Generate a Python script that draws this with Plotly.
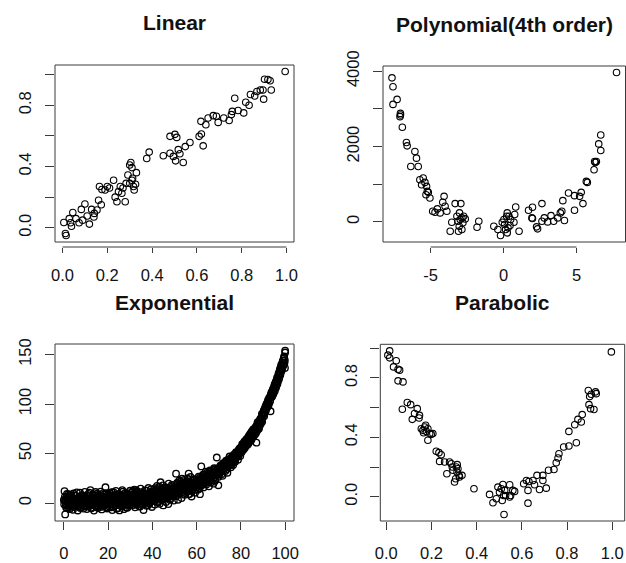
import plotly.graph_objects as go

# ---- data -------------------------------------------------------------
lin_x = [0.006, 0.013, 0.016, 0.036, 0.040, 0.046, 0.074, 0.084, 0.100, 0.110,
         0.120, 0.130, 0.142, 0.154, 0.161, 0.165, 0.176, 0.173, 0.190, 0.200,
         0.228, 0.235, 0.243, 0.250, 0.258, 0.265, 0.280, 0.284, 0.292, 0.300,
         0.305, 0.310, 0.313, 0.317, 0.320, 0.330, 0.326, 0.376, 0.387, 0.450,
         0.480, 0.502, 0.510, 0.480, 0.495, 0.505, 0.517, 0.524, 0.539, 0.548,
         0.569, 0.610, 0.620, 0.628, 0.618, 0.640, 0.650, 0.673, 0.687, 0.695,
         0.720, 0.744, 0.754, 0.758, 0.769, 0.784, 0.809, 0.818, 0.833, 0.839,
         0.858, 0.868, 0.883, 0.898, 0.895, 0.902, 0.917, 0.927, 0.932, 0.994,
         0.030, 0.060, 0.090, 0.140, 0.210, 0.270, 0.300, 0.310]
lin_y = [0.035, -0.037, -0.050, 0.033, 0.010, 0.100, 0.033, 0.120, 0.155, 0.077,
         0.024, 0.120, 0.094, 0.116, 0.180, 0.270, 0.250, 0.150, 0.247, 0.270,
         0.310, 0.200, 0.170, 0.236, 0.270, 0.225, 0.170, 0.290, 0.345, 0.410,
         0.426, 0.393, 0.323, 0.270, 0.247, 0.360, 0.284, 0.452, 0.494, 0.470,
         0.597, 0.610, 0.590, 0.487, 0.466, 0.437, 0.510, 0.483, 0.426, 0.530,
         0.557, 0.597, 0.612, 0.535, 0.695, 0.673, 0.717, 0.732, 0.728, 0.688,
         0.717, 0.700, 0.739, 0.760, 0.846, 0.766, 0.750, 0.820, 0.800, 0.870,
         0.860, 0.890, 0.900, 0.840, 0.900, 0.970, 0.968, 0.960, 0.900, 1.020,
         0.060, 0.060, 0.050, 0.070, 0.260, 0.260, 0.290, 0.310]

poly_x = [-7.65, -7.58, -7.30, -7.58, -7.07, -7.07, -7.10, -6.94, -6.66, -6.61,
          -6.08, -5.97, -6.36, -5.85, -5.74, -5.51, -5.62, -5.39, -5.28, -5.16,
          -5.05, -5.23, -5.32, -4.08, -4.17, -4.86, -4.70, -4.54, -4.35, -4.01,
          -3.89, -3.32, -2.93, -3.55, -3.66, -3.20, -3.13, -3.04, -2.97, -2.86,
          -2.74, -2.63, -2.79, -3.09, -2.86, -3.02, -1.70, -1.82, -0.67, -0.39,
          -0.21, -0.09, 0.02, 0.07, 0.21, 0.25, 0.37, 0.48, 0.14, 0.30,
          0.71, 0.83, 0.76, 1.06, 0.44, 0.25, 1.71, 1.98, 1.94, 1.98,
          2.26, 2.33, 2.63, 2.63, 2.79, 3.02, 3.25, 3.43, 3.71, 3.89,
          3.99, 4.17, 4.06, 4.45, 4.86, 5.21, 5.32, 4.86, 5.44, 5.67,
          5.74, 6.20, 6.29, 6.36, 6.24, 6.52, 6.66, 6.66, 7.74]
poly_y = [3824, 3586, 3251, 3119, 2880, 2837, 2793, 2511, 2106, 2018,
          1868, 1692, 1471, 1471, 1119, 1163, 987, 1048, 943, 784,
          634, 811, 722, 678, 520, 282, 256, 344, 238, 414,
          282, 485, 485, -9, -247, 150, 18, -115, 62, 106,
          150, 79, -26, -247, -203, 238, 18, -141, -115, -203,
          -361, -9, 62, -70, 150, 238, 150, 62, -203, -159,
          -9, 397, 194, -247, -97, -291, 308, 388, 106, 88,
          -132, -185, 485, 18, 106, 0, 167, 18, 106, 238,
          282, 35, 564, 767, 696, 678, 784, 308, 485, 1075,
          1048, 1383, 1577, 1604, 1604, 2070, 1894, 2308, 3965]

exp_x = [0.0, 0.3, 0.6, 0.9, 1.2, 1.6, 1.9, 2.2, 2.5, 2.8, 3.1, 3.5, 3.8, 4.1, 4.4, 4.7,
         5.0, 5.4, 5.7, 6.0, 6.3, 6.6, 6.9, 7.3, 7.6, 7.9, 8.2, 8.5, 8.8, 9.2, 9.5, 9.8,
         10.1, 10.4, 10.7, 11.1, 11.4, 11.7, 12.0, 12.3, 12.7, 13.0, 13.3, 13.6, 13.9, 14.3, 14.6,
         14.9, 15.2, 15.5, 15.8, 16.2, 16.5, 16.8, 17.1, 17.4, 17.8, 18.1, 18.4, 18.8, 19.1, 19.4, 19.7,
         20.0, 20.3, 20.7, 21.0, 21.3, 21.6, 21.9, 22.3, 22.6, 22.9, 23.2, 23.5, 23.9, 24.2, 24.5, 24.8,
         25.1, 25.5, 25.8, 26.1, 26.4, 26.7, 27.1, 27.4, 27.7, 28.0, 28.3, 28.7, 29.0, 29.3, 29.6, 29.9,
         30.2, 30.6, 30.9, 31.2, 31.5, 31.8, 32.2, 32.5, 32.8, 33.1, 33.4, 33.8, 34.1, 34.4, 34.7,
         35.0, 35.4, 35.7, 36.0, 36.3, 36.6, 37.0, 37.3, 37.6, 37.9, 38.2, 38.6, 38.9, 39.2, 39.5, 39.8,
         40.1, 40.5, 40.8, 41.1, 41.4, 41.7, 42.1, 42.4, 42.7, 43.0, 43.3, 43.7, 44.0, 44.3, 44.6,
         44.9, 45.3, 45.6, 45.9, 46.2, 46.5, 46.9, 47.2, 47.5, 47.8, 48.1, 48.5, 48.8, 49.1, 49.4, 49.7,
         50.0, 50.4, 50.7, 51.0, 51.3, 51.6, 52.0, 52.3, 52.6, 52.9, 53.2, 53.6, 53.9, 54.2, 54.5, 54.8,
         55.2, 55.5, 55.8, 56.1, 56.4, 56.8, 57.1, 57.4, 57.7, 58.0, 58.4, 58.7, 59.0, 59.3, 59.6, 59.9,
         60.3, 60.6, 60.9, 61.2, 61.5, 61.8, 62.1, 62.5, 62.8, 63.1, 63.4, 63.7, 64.1, 64.4, 64.7,
         65.0, 65.3, 65.6, 66.0, 66.3, 66.6, 66.9, 67.2, 67.6, 67.9, 68.2, 68.5, 68.8, 69.1, 69.5, 69.8,
         70.1, 70.4, 70.8, 71.1, 71.4, 71.7, 72.0, 72.3, 72.7, 73.0, 73.3, 73.6, 73.9, 74.3, 74.6,
         74.9, 75.2, 75.5, 75.8, 76.2, 76.5, 76.8, 77.1, 77.4, 77.8, 78.1, 78.4, 78.7, 79.0, 79.3, 79.7,
         80.0, 80.3, 80.6, 81.0, 81.3, 81.6, 81.9, 82.2, 82.5, 82.9, 83.2, 83.5, 83.8, 84.1, 84.5, 84.8,
         85.1, 85.4, 85.7, 86.0, 86.4, 86.7, 87.0, 87.3, 87.6, 88.0, 88.3, 88.6, 88.9, 89.2, 89.6, 89.9,
         90.2, 90.5, 90.8, 91.2, 91.5, 91.8, 92.1, 92.4, 92.7, 93.1, 93.4, 93.7, 94.0, 94.3, 94.6,
         95.0, 95.3, 95.6, 95.9, 96.2, 96.5, 96.9, 97.2, 97.5, 97.8, 98.1, 98.4, 98.8, 99.1, 99.4, 99.7,
         100.0, 100.0, 99.9]
exp_y = [3.1, 12.0, -11.5, -2.4, 5.6, 0.8, -5.3, 8.9, 2.2, -3.7, 6.4, -1.1, 4.0, -6.8, 9.7, 1.5,
         -2.9, 7.3, -0.4, 3.6, -7.5, 5.1, 0.2, 10.4, -4.2, 2.7, -1.8, 6.9, -5.6, 1.9, 11.3, -3.0,
         5.2, -6.1, 2.8, 9.3, -2.2, 0.6, 13.1, -4.9, 4.4, -0.7, 7.8, -7.6, 2.0, 11.2, -3.3,
         5.9, 0.1, -5.0, 8.4, 3.3, -1.6, 6.6, -6.4, 1.2, 10.0, -2.6, 4.8, 16.0, -0.9, 7.1, -4.4,
         2.1, 8.7, -3.9, 5.4, -0.3, 11.0, -7.1, 3.8, 7.2, -2.7, 1.0, 12.3, -5.7, 4.9, -1.2, 9.0,
         -7.4, 2.9, 6.8, -3.1, 13.0, 0.4, -6.2, 5.6, 10.1, -1.9, 3.2, -4.8, 8.1, 1.6, -2.3, 12.4,
         4.0, 10.6, -2.0, 7.3, 0.9, 13.4, -4.4, 6.1, 2.4, 11.7, -1.3, 8.5, 3.5, -3.6, 14.6,
         5.5, 0.0, 9.4, -7.0, 6.3, 12.8, 1.8, -2.8, 8.9, 4.6, 15.2, -0.6, 7.7, 3.0, 11.5, -4.0,
         8.0, 3.1, 13.9, -1.5, 10.2, 6.0, 17.3, 1.4, 11.8, 5.2, -0.8, 21.0, 8.6, 3.9, 14.4,
         -2.4, 10.9, 6.5, 16.0, 1.1, 12.2, 7.9, -1.0, 15.4, 9.8, 4.4, 13.0, 18.2, 6.7, 11.1, 2.5,
         14.3, 6.9, 29.7, 11.0, 18.8, 3.3, 15.9, 9.7, 21.4, 12.6, 5.0, 17.7, 13.1, 23.2, 8.4, 16.5,
         19.9, 11.3, 25.0, 14.7, 29.7, 9.2, 20.6, 16.1, 6.6, 22.5, 13.9, 18.4, 24.1, 10.5, 19.3, 15.6,
         20.8, 13.5, 26.7, 17.4, 9.0, 23.4, 37.0, 19.0, 28.3, 15.8, 24.9, 21.3, 31.6, 18.7, 26.0,
         22.4, 29.4, 16.9, 33.0, 25.3, 21.0, 30.4, 27.6, 19.6, 35.2, 28.8, 24.4, 32.7, 46.0, 29.9, 18.0,
         34.4, 29.8, 38.1, 31.7, 36.3, 27.5, 40.2, 34.9, 37.6, 32.4, 42.8, 36.7, 30.6, 44.1, 39.3,
         47.0, 41.4, 36.2, 45.5, 43.0, 38.4, 48.8, 44.9, 41.6, 51.3, 46.7, 49.5, 43.8, 54.0, 50.6, 47.4,
         55.8, 51.2, 59.4, 53.6, 57.9, 62.3, 56.0, 60.8, 64.5, 58.7, 63.0, 67.4, 61.6, 66.2, 70.8, 64.0,
         69.5, 73.1, 67.3, 71.9, 75.8, 70.2, 61.0, 78.6, 74.4, 80.9, 77.1, 83.7, 79.5, 86.2, 82.0, 89.4,
         91.5, 87.7, 95.1, 93.0, 99.2, 96.4, 101.8, 98.0, 105.5, 102.3, 92.7, 110.4, 107.0, 113.6, 109.8,
         117.2, 113.1, 121.0, 116.8, 124.5, 120.3, 128.9, 125.0, 133.2, 129.4, 137.8, 133.5, 142.1, 138.4, 145.9, 141.7,
         152.0, 154.0, 136.5]

# second run of exponential samples, interleaved with the first
exp_x_more = [0.15, 0.45, 0.75, 1.05, 1.4, 1.75, 2.05, 2.35, 2.65, 2.95, 3.3, 3.65, 3.95, 4.25, 4.55, 4.85,
              5.2, 5.55, 5.85, 6.15, 6.45, 6.75, 7.1, 7.45, 7.75, 8.05, 8.35, 8.65, 9.0, 9.35, 9.65, 9.95,
              10.25, 10.55, 10.9, 11.25, 11.55, 11.85, 12.15, 12.5, 12.85, 13.15, 13.45, 13.75, 14.1, 14.45, 14.75,
              15.05, 15.35, 15.65, 16.0, 16.35, 16.65, 16.95, 17.25, 17.6, 17.95, 18.25, 18.6, 18.95, 19.25, 19.55, 19.85,
              20.15, 20.5, 20.85, 21.15, 21.45, 21.75, 22.1, 22.45, 22.75, 23.05, 23.35, 23.7, 24.05, 24.35, 24.65,
              24.95, 25.3, 25.65, 25.95, 26.25, 26.55, 26.9, 27.25, 27.55, 27.85, 28.15, 28.5, 28.85, 29.15, 29.45, 29.75,
              30.4, 30.75, 31.05, 31.35, 31.65, 32.0, 32.35, 32.65, 32.95, 33.25, 33.6, 33.95, 34.25, 34.55, 34.85,
              35.2, 35.55, 35.85, 36.15, 36.45, 36.8, 37.15, 37.45, 37.75, 38.05, 38.4, 38.75, 39.05, 39.35, 39.65, 39.95,
              40.3, 40.65, 40.95, 41.25, 41.55, 41.9, 42.25, 42.55, 42.85, 43.15, 43.5, 43.85, 44.15, 44.45, 44.75,
              45.1, 45.45, 45.75, 46.05, 46.35, 46.7, 47.05, 47.35, 47.65, 47.95, 48.3, 48.65, 48.95, 49.25, 49.55, 49.85,
              50.2, 50.55, 50.85, 51.15, 51.45, 51.8, 52.15, 52.45, 52.75, 53.05, 53.4, 53.75, 54.05, 54.35, 54.65,
              55.0, 55.35, 55.65, 55.95, 56.25, 56.6, 56.95, 57.25, 57.55, 57.85, 58.2, 58.55, 58.85, 59.15, 59.45, 59.75,
              60.45, 60.75, 61.05, 61.35, 61.65, 61.95, 62.3, 62.65, 62.95, 63.25, 63.55, 63.9, 64.25, 64.55, 64.85,
              65.15, 65.45, 65.8, 66.15, 66.45, 66.75, 67.05, 67.4, 67.75, 68.05, 68.35, 68.65, 68.95, 69.3, 69.65, 69.95,
              70.25, 70.6, 70.95, 71.25, 71.55, 71.85, 72.15, 72.5, 72.85, 73.15, 73.45, 73.75, 74.1, 74.45, 74.75,
              75.05, 75.35, 75.65, 76.0, 76.35, 76.65, 76.95, 77.25, 77.6, 77.95, 78.25, 78.55, 78.85, 79.15, 79.5, 79.85,
              80.15, 80.45, 80.8, 81.15, 81.45, 81.75, 82.05, 82.35, 82.7, 83.05, 83.35, 83.65, 83.95, 84.3, 84.65,
              84.95, 85.25, 85.55, 85.85, 86.2, 86.55, 86.85, 87.15, 87.45, 87.8, 88.15, 88.45, 88.75, 89.05, 89.4, 89.75,
              90.05, 90.35, 90.65, 91.0, 91.35, 91.65, 91.95, 92.25, 92.55, 92.9, 93.25, 93.55, 93.85, 94.15, 94.45, 94.8,
              95.15, 95.45, 95.75, 96.05, 96.35, 96.7, 97.05, 97.35, 97.65, 97.95, 98.25, 98.6, 98.95, 99.25, 99.55, 99.85]
exp_y_more = [-1.2, 6.3, 2.5, -4.6, 9.1, 3.9, -0.8, 5.7, -6.0, 1.4, 8.2, -2.5, 4.5, 0.3, -4.0, 7.6,
              2.0, -1.7, 10.8, 4.7, -3.4, 1.1, 6.1, -5.1, 3.4, 8.0, -0.2, 4.2, -3.0, 7.4, 0.9, 5.3,
              1.8, 7.5, -3.6, 3.9, 10.6, -1.4, 5.0, -5.3, 2.6, 8.8, 0.0, 4.3, -2.9, 6.2, 1.3,
              9.6, -4.1, 3.1, 7.0, -0.4, 11.6, 2.4, -3.8, 5.5, 0.8, 8.6, -2.0, 4.0, 10.1, -5.5, 6.0,
              6.0, -0.9, 9.8, 3.0, -4.3, 7.0, 1.5, 10.9, -2.1, 4.6, 8.3, -0.4, 5.8, -5.0, 3.6,
              9.3, 0.6, 6.9, -3.3, 4.1, 11.4, 2.3, -1.6, 7.6, 3.4, -4.5, 9.9, 5.1, -0.7, 6.6, 2.0,
              7.9, 2.2, 12.1, 5.0, -1.9, 9.2, 3.8, 13.0, 0.5, 6.7, 10.4, -3.0, 7.2, 2.7, 11.0,
              5.9, -1.2, 8.3, 4.1, 10.0, 0.3, 6.4, 12.6, 3.6, -2.2, 9.6, 5.3, 1.0, 13.8, 6.9, 8.7,
              11.6, 5.4, 9.0, 15.1, 3.6, 12.9, 7.3, 0.6, 10.6, 16.6, 6.2, 13.4, 2.8, 9.9, 17.9,
              7.0, 12.5, 4.7, 10.3, 14.9, 5.9, 11.4, 19.6, 8.4, 3.2, 14.1, 10.0, 16.9, 7.8, 12.8, 9.3,
              10.2, 17.0, 12.4, 20.3, 8.1, 15.0, 22.8, 11.6, 18.1, 14.4, 24.6, 9.5, 16.8, 20.9, 13.0,
              17.6, 11.9, 21.8, 16.4, 8.7, 19.5, 14.0, 26.3, 17.3, 12.2, 20.1, 15.3, 23.5, 18.9, 13.4, 21.6,
              17.9, 24.2, 20.6, 14.8, 26.4, 22.0, 18.1, 25.6, 21.7, 29.0, 19.9, 23.8, 27.3, 20.5, 30.7,
              24.1, 21.4, 28.1, 25.7, 32.1, 23.0, 27.0, 30.0, 25.2, 33.9, 22.6, 31.1, 27.9, 35.0, 31.4, 26.6,
              31.9, 36.5, 33.3, 29.2, 38.6, 35.0, 32.6, 39.8, 36.0, 41.2, 38.0, 34.3, 40.7, 37.4, 43.6,
              40.0, 44.5, 38.9, 42.2, 47.3, 40.9, 45.3, 43.2, 48.0, 45.8, 50.0, 47.2, 52.4, 48.7, 51.8, 53.3,
              53.0, 57.2, 55.1, 60.0, 54.9, 59.2, 58.4, 62.9, 60.5, 65.3, 60.0, 64.8, 69.0, 63.4, 68.1,
              72.4, 66.5, 70.6, 74.6, 69.0, 73.8, 77.5, 72.3, 76.9, 80.3, 75.0, 79.8, 85.0, 81.1, 84.4, 87.5,
              88.9, 93.6, 90.2, 96.8, 94.5, 100.3, 97.6, 103.9, 100.0, 106.8, 104.1, 108.2, 111.9, 108.4, 115.0, 111.2,
              119.1, 115.4, 122.6, 118.7, 126.7, 122.8, 130.8, 127.0, 135.4, 131.3, 139.7, 135.9, 143.8, 140.0, 148.0, 144.2]

# third run, close to the centre of the band
exp_x_core = [0.5, 1.5, 2.5, 3.5, 4.5, 5.5, 6.5, 7.5, 8.5, 9.5,
              10.5, 11.5, 12.5, 13.5, 14.5, 15.5, 16.5, 17.5, 18.5, 19.5,
              20.5, 21.5, 22.5, 23.5, 24.5, 25.5, 26.5, 27.5, 28.5, 29.5,
              30.5, 31.5, 32.5, 33.5, 34.5, 35.5, 36.5, 37.5, 38.5, 39.5,
              40.5, 41.5, 42.5, 43.5, 44.5, 45.5, 46.5, 47.5, 48.5, 49.5,
              50.5, 51.5, 52.5, 53.5, 54.5, 55.5, 56.5, 57.5, 58.5, 59.5,
              60.5, 61.5, 62.5, 63.5, 64.5, 65.5, 66.5, 67.5, 68.5, 69.5,
              70.5, 71.5, 72.5, 73.5, 74.5, 75.5, 76.5, 77.5, 78.5, 79.5,
              80.5, 81.5, 82.5, 83.5, 84.5, 85.5, 86.5, 87.5, 88.5, 89.5,
              90.5, 91.5, 92.5, 93.5, 94.5, 95.5, 96.5, 97.5, 98.5, 99.5]
exp_y_core = [2.5, -2.0, 4.1, -0.6, 3.0, -3.1, 1.9, 5.2, -1.5, 0.4,
              4.9, -2.4, 2.6, 0.2, 5.5, -1.0, 3.4, -2.7, 1.6, 6.0,
              -0.5, 4.4, 1.2, -2.1, 6.3, 2.0, -1.3, 5.8, 3.1, 0.7,
              7.4, 2.6, -0.8, 6.9, 4.0, 1.5, 8.7, 3.3, 9.9, 5.1,
              4.6, 10.8, 6.2, 11.9, 7.0, 12.4, 8.1, 13.9, 9.5, 14.7,
              10.3, 15.9, 12.0, 17.2, 13.6, 18.3, 14.8, 20.4, 16.9, 22.0,
              18.5, 24.0, 20.9, 26.2, 23.0, 28.1, 25.3, 31.0, 28.4, 34.6,
              31.8, 37.9, 35.2, 41.8, 39.0, 45.7, 43.9, 50.2, 48.8, 55.3,
              53.7, 61.2, 59.9, 67.1, 66.0, 74.0, 73.3, 81.7, 81.2, 90.1,
              90.0, 99.2, 99.9, 109.3, 110.5, 120.6, 122.3, 133.0, 135.4, 146.8]

par_x = [0.015, 0.007, 0.015, 0.044, 0.032, 0.052, 0.059, 0.052, 0.074, 0.071,
         0.093, 0.108, 0.115, 0.125, 0.137, 0.147, 0.145, 0.155, 0.162, 0.170,
         0.177, 0.184, 0.192, 0.184, 0.199, 0.165, 0.174, 0.206, 0.221, 0.233,
         0.236, 0.243, 0.258, 0.268, 0.280, 0.288, 0.292, 0.295, 0.302, 0.307,
         0.310, 0.313, 0.317, 0.322, 0.324, 0.335, 0.314, 0.388, 0.457, 0.472,
         0.487, 0.494, 0.501, 0.509, 0.516, 0.519, 0.524, 0.513, 0.528, 0.546,
         0.550, 0.560, 0.568, 0.546, 0.521, 0.608, 0.620, 0.627, 0.631, 0.627,
         0.649, 0.667, 0.656, 0.678, 0.693, 0.708, 0.693, 0.718, 0.742, 0.752,
         0.760, 0.764, 0.785, 0.808, 0.808, 0.841, 0.834, 0.848, 0.863, 0.867,
         0.897, 0.904, 0.919, 0.900, 0.907, 0.926, 0.929, 0.894, 0.996]
par_y = [0.982, 0.953, 0.935, 0.915, 0.874, 0.858, 0.852, 0.780, 0.773, 0.589,
         0.634, 0.620, 0.521, 0.560, 0.593, 0.548, 0.530, 0.458, 0.447, 0.470,
         0.440, 0.458, 0.425, 0.380, 0.420, 0.431, 0.481, 0.425, 0.306, 0.297,
         0.238, 0.283, 0.234, 0.155, 0.234, 0.222, 0.200, 0.178, 0.099, 0.121,
         0.200, 0.166, 0.189, 0.144, 0.133, 0.144, 0.216, 0.054, 0.016, -0.040,
         -0.013, 0.065, 0.031, 0.054, 0.083, 0.009, 0.043, -0.025, 0.009, 0.081,
         0.009, 0.043, 0.036, -0.002, -0.119, 0.088, 0.110, 0.043, 0.103, -0.043,
         0.110, 0.144, 0.081, 0.049, 0.110, 0.058, 0.144, 0.178, 0.184, 0.229,
         0.261, 0.290, 0.335, 0.342, 0.440, 0.364, 0.485, 0.521, 0.503, 0.553,
         0.620, 0.593, 0.587, 0.674, 0.690, 0.706, 0.694, 0.715, 0.975]

titles = ["Linear", "Polynomial(4th order)", "Exponential", "Parabolic"]

lin_xticks = [0.0, 0.2, 0.4, 0.6, 0.8, 1.0]
lin_xlabels = ["0.0", "0.2", "0.4", "0.6", "0.8", "1.0"]
lin_yticks = [0.0, 0.2, 0.4, 0.6, 0.8, 1.0]
lin_ylabels = ["0.0", "", "0.4", "", "0.8", ""]

poly_xticks = [-5, 0, 5]
poly_xlabels = ["-5", "0", "5"]
poly_yticks = [0, 1000, 2000, 3000, 4000]
poly_ylabels = ["0", "", "2000", "", "4000"]

exp_xticks = [0, 20, 40, 60, 80, 100]
exp_xlabels = ["0", "20", "40", "60", "80", "100"]
exp_yticks = [0, 50, 100, 150]
exp_ylabels = ["0", "50", "100", "150"]

par_xticks = [0.0, 0.2, 0.4, 0.6, 0.8, 1.0]
par_xlabels = ["0.0", "0.2", "0.4", "0.6", "0.8", "1.0"]
par_yticks = [0.0, 0.2, 0.4, 0.6, 0.8, 1.0]
par_ylabels = ["0.0", "", "0.4", "", "0.8", ""]

# ---- layout -----------------------------------------------------------
W, H = 626, 563
FONT = "Liberation Sans, Arial, sans-serif"
INK = "#111111"
BOX = "#3a3a3a"

# plot boxes in pixels: left, top, right, bottom
boxes = [(55, 65, 294, 242), (383, 66, 625.5, 242),
         (55, 344, 294, 521), (380.3, 344.3, 624.7, 521)]
# top row draws its x axis a little below the box, bottom row on it
detached = [True, True, False, False]
# the last panel's box runs a little wider on the right than the data needs
x_range_override = {3: [-0.0265, 1.055]}
# the dense exponential cloud is drawn with slightly heavier rings
ring_width = [1.1, 1.1, 1.35, 1.1]

panels = [
    (lin_x, lin_y, lin_xticks, lin_xlabels, lin_yticks, lin_ylabels),
    (poly_x, poly_y, poly_xticks, poly_xlabels, poly_yticks, poly_ylabels),
    (exp_x + exp_x_more + exp_x_core, exp_y + exp_y_more + exp_y_core,
     exp_xticks, exp_xlabels, exp_yticks, exp_ylabels),
    (par_x, par_y, par_xticks, par_xlabels, par_yticks, par_ylabels),
]


def padded(vals):
    lo, hi = min(vals), max(vals)
    d = (hi - lo) * 0.04
    return [lo - d, hi + d]


fig = go.Figure()
layout = dict(width=W, height=H,
              margin=dict(l=0, r=0, t=0, b=0, pad=0, autoexpand=False),
              autosize=False,
              paper_bgcolor="white", plot_bgcolor="white", showlegend=False,
              annotations=[], shapes=[])
tickfont = dict(family=FONT, size=16.5, color=INK)

for i, (px, py, xt, xl, yt, yl) in enumerate(panels):
    n = i + 1
    sfx = "" if n == 1 else str(n)
    l, t, r, b = boxes[i]
    xdom = [l / W, r / W]
    ydom = [1 - b / H, 1 - t / H]
    xr = x_range_override.get(i, padded(px))
    yr = padded(py)

    fig.add_trace(go.Scatter(
        x=px, y=py, mode="markers", xaxis="x" + sfx, yaxis="y" + sfx,
        marker=dict(symbol="circle-open", size=6.5, color="black",
                    line=dict(width=ring_width[i], color="black")),
        hoverinfo="skip"))

    xa = dict(domain=xdom, range=xr, showgrid=False, zeroline=False,
              showline=False, ticks="outside", tickwidth=1, tickcolor=BOX,
              tickvals=xt, ticktext=xl, tickfont=tickfont, fixedrange=True,
              automargin=False, ticklabeloverflow="allow")
    ya = dict(domain=ydom, range=yr, anchor="x" + sfx, showgrid=False,
              zeroline=False, showline=False, ticks="outside", ticklen=9,
              tickwidth=1, tickcolor=BOX, tickvals=yt, ticktext=yl,
              tickangle=-90, tickfont=tickfont, ticklabelstandoff=7,
              fixedrange=True, automargin=False, ticklabeloverflow="allow")

    if detached[i]:
        pos = 1 - (b + 5) / H
        xa.update(anchor="free", position=pos, ticklen=5,
                  ticklabelstandoff=8)
        # axis line running from the first to the last tick
        layout["shapes"].append(dict(
            type="line", xref="x" + sfx, yref="paper",
            x0=xt[0], x1=xt[-1], y0=pos, y1=pos,
            line=dict(color=BOX, width=1)))
    else:
        xa.update(anchor="y" + sfx, ticklen=8, ticklabelstandoff=9)

    layout["xaxis" + sfx] = xa
    layout["yaxis" + sfx] = ya

    # plot box
    layout["shapes"].append(dict(
        type="rect", xref="x%s domain" % sfx, yref="y%s domain" % sfx,
        x0=0, x1=1, y0=0, y1=1, line=dict(color=BOX, width=1),
        fillcolor="rgba(0,0,0,0)", layer="above"))

    layout["annotations"].append(dict(
        text="<b>%s</b>" % titles[i], xref="paper", yref="paper",
        x=(l + r) / 2 / W, y=1 - (t - 42) / H, xanchor="center",
        yanchor="middle", showarrow=False,
        font=dict(family=FONT, size=21, color=INK)))

fig.update_layout(**layout)
fig.write_html("out.html")
